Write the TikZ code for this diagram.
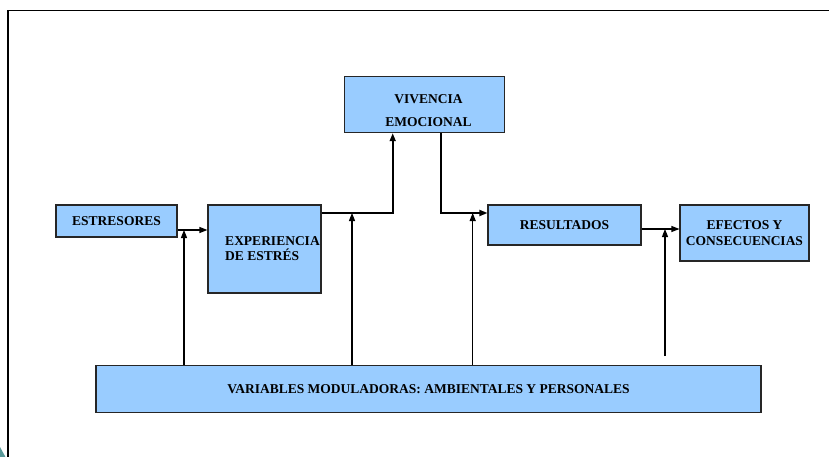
\documentclass[tikz,border=0pt]{standalone}
\usepackage{fontspec}
\setmainfont{Liberation Serif}
\usetikzlibrary{arrows.meta}
\definecolor{azulcaja}{HTML}{99CCFF}
\definecolor{verdeazul}{HTML}{5A9A9A}
\tikzset{
  caja/.style={draw=black!85,line width=1.1,fill=azulcaja,inner sep=0,
    font=\fontsize{13.5}{15.8}\selectfont\bfseries,align=center},
  rotulo/.style={inner sep=0,font=\fontsize{13.5}{15.8}\selectfont\bfseries},
  flecha/.style={line width=1.1,-{Triangle[length=8,width=6]}},
  grueso/.style={line width=1.7}
}
\begin{document}
\begin{tikzpicture}[x=1pt,y=-1pt]
\useasboundingbox (0,0) rectangle (829,457);
% marco
\draw[line width=1.6] (8,457) -- (8,10.7) -- (829,10.7);
\fill[verdeazul] (0,447) -- (5.5,457) -- (0,457) -- cycle;
% cajas
\node[caja,minimum width=121,minimum height=32] (estr) at (116.5,221) {ESTRESORES};
\node[caja,minimum width=113,minimum height=88] (exp) at (264.5,249) {};
\node[rotulo,align=left] (texp) at (272.5,248.5) {EXPERIENCIA\\DE ESTRÉS};
\node[caja,minimum width=160,minimum height=56] (viv) at (424.7,104.7) {};
\node[rotulo,align=center] (tviv) at (428.4,110.5) {VIVENCIA\\[8pt]EMOCIONAL};
\node[caja,minimum width=153,minimum height=40] (res) at (564.5,225) {RESULTADOS};
\node[caja,minimum width=129,minimum height=56] (efe) at (744.5,233) {EFECTOS Y\\CONSECUENCIAS};
\node[caja,minimum width=665,minimum height=47.7] (var) at (428.5,388.9) {VARIABLES MODULADORAS: AMBIENTALES Y PERSONALES};
% puntos de llegada
\coordinate (m1) at (184,230);
\coordinate (m2) at (352,213);
\coordinate (m3) at (472.7,213);
\coordinate (m4) at (665,229);
\coordinate (m4b) at (665,356);
% conexiones
\draw[flecha] ([yshift=-9]estr.east) -- ([yshift=-9]estr.east -| exp.west);
\draw[flecha,grueso] (exp.east |- m2) -| ([xshift=-32]viv.south);
\draw[flecha,grueso] ([xshift=16.3]viv.south) |- ([yshift=12]res.west);
\draw[flecha] ([yshift=-4]res.east) -- ([yshift=-4]res.east -| efe.west);
\draw[flecha] (var.north -| m1) -- (m1);
\draw[flecha] (var.north -| m2) -- (m2);
\draw[flecha] (var.north -| m3) -- (m3);
\draw[flecha] (m4b) -- (m4);
\end{tikzpicture}
\end{document}
